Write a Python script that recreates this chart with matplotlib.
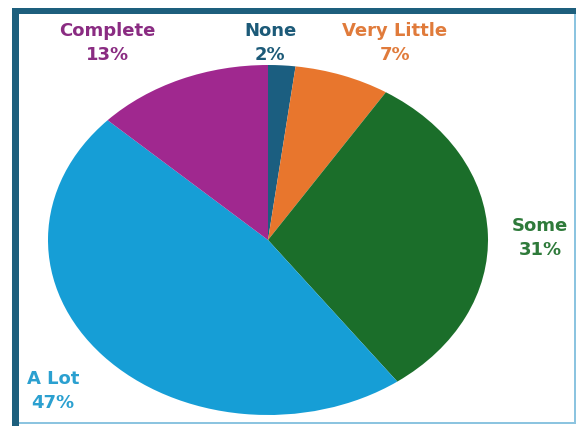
import matplotlib
matplotlib.use('Agg')
from matplotlib import pyplot as plt
from matplotlib.patches import Rectangle

labels = ['None', 'Very Little', 'Some', 'A Lot', 'Complete']
values = [2, 7, 31, 47, 13]
colors = ['#1b5e80', '#e8762d', '#1b6e2a', '#169ed6', '#a0288f']
text_colors = ['#1c5a78', '#e07b3b', '#2e7a3a', '#2ba0d0', '#8a2c82']
# label centre positions in pixels (x, y from top)
label_pos = [(270, 43), (395, 43), (540, 238), (53, 391), (107, 43)]

W, H = 578, 426
fig = plt.figure(figsize=(W / 100, H / 100), dpi=100)
fig.patch.set_facecolor('white')


def box(x0, y0, x1, y1, c):
    # filled rectangle given in pixels from top-left
    fig.add_artist(Rectangle((x0 / W, 1 - y1 / H), (x1 - x0) / W, (y1 - y0) / H,
                             transform=fig.transFigure, facecolor=c, edgecolor='none'))


# frame: thick dark top/left, thin light right/bottom
box(12, 8, 576, 14, '#1d5f7d')
box(12, 8, 19, 426, '#1d5f7d')
box(574, 14, 576, 424, '#8cc4e0')
box(19, 422, 576, 424, '#8cc4e0')

ax = fig.add_axes([48 / W, (H - 415) / H, 440 / W, 350 / H])
ax.pie(values, colors=colors, startangle=90, counterclock=False,
       wedgeprops=dict(linewidth=0))
ax.set_aspect('auto')
ax.set_xlim(-1, 1)
ax.set_ylim(-1, 1)

for lab, v, c, (px, py) in zip(labels, values, text_colors, label_pos):
    fig.text(px / W, 1 - py / H, '%s\n%d%%' % (lab, v), ha='center', va='center',
             color=c, fontsize=13, fontweight='bold', linespacing=1.45,
             family='DejaVu Sans')

fig.savefig('out.png', dpi=100)
